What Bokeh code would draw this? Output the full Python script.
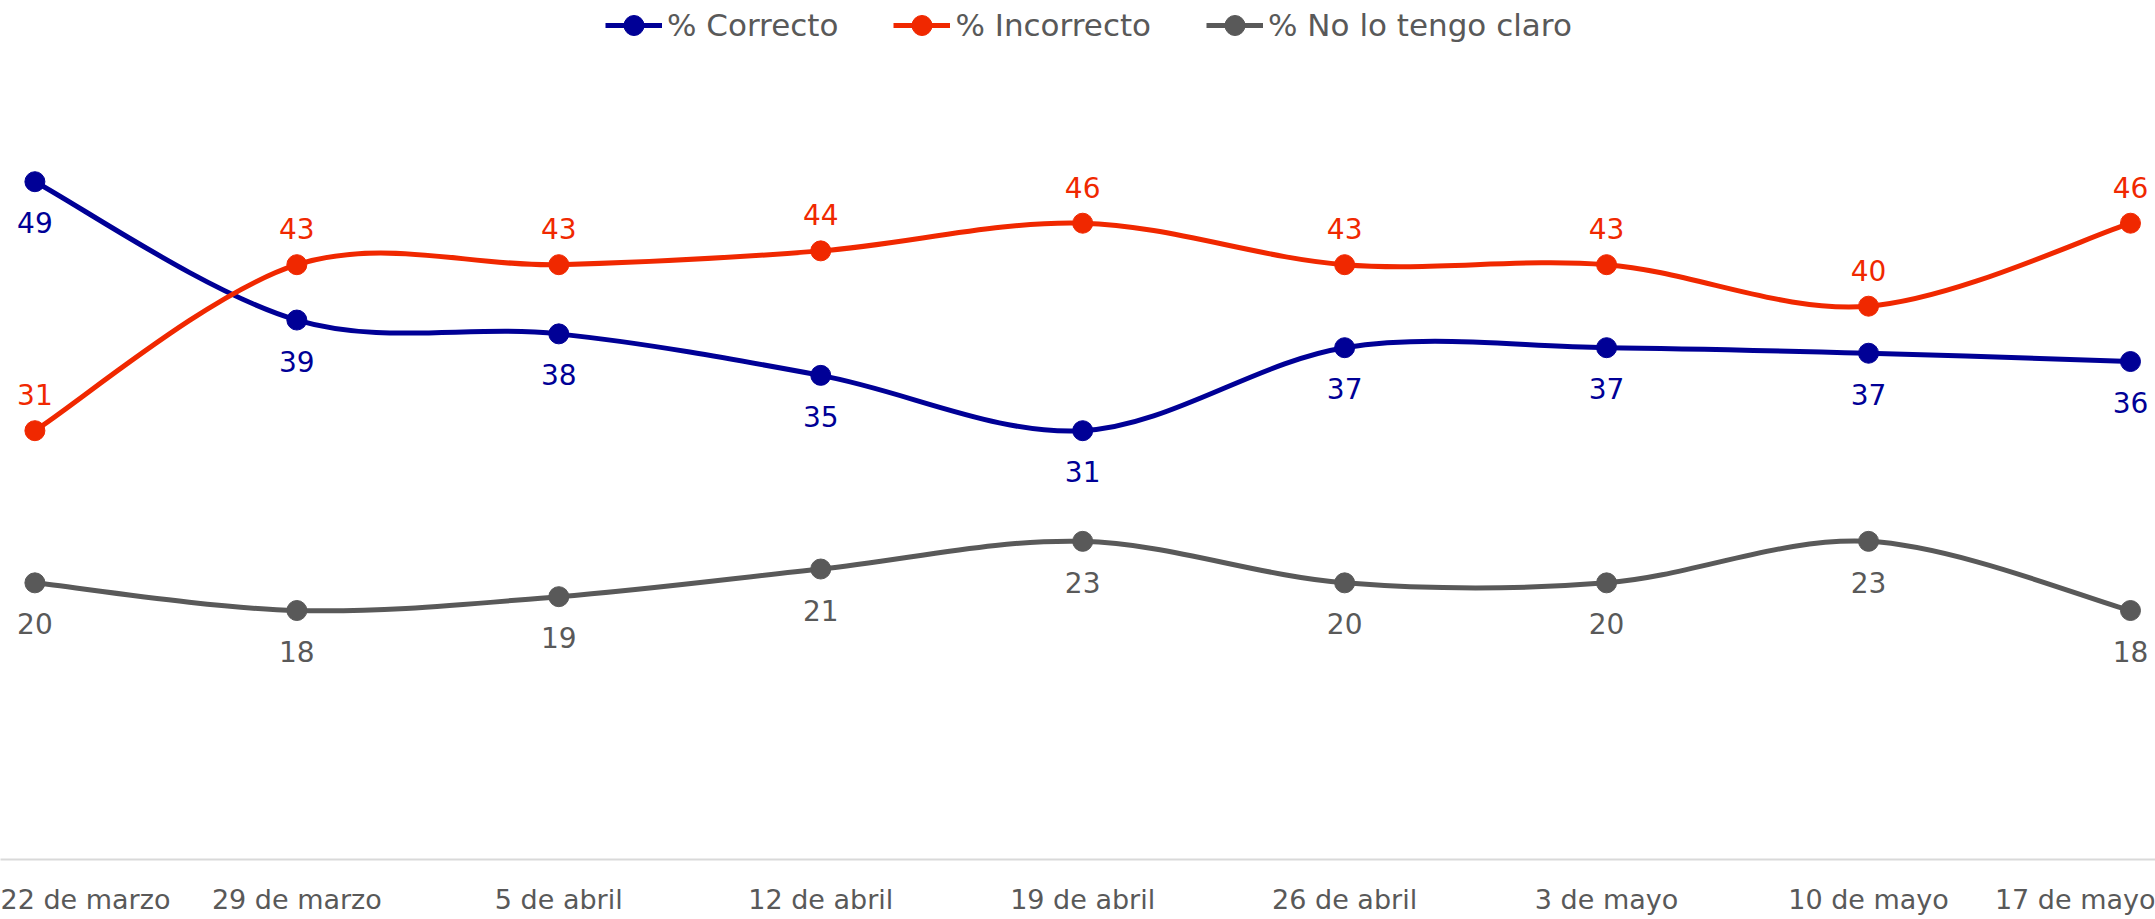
from bokeh.plotting import figure
from bokeh.models import ColumnDataSource, FixedTicker, Legend, LegendItem, Range1d
from bokeh.embed import file_html
from bokeh.resources import INLINE
from bokeh.core.properties import value

# ---- data ----
fechas = ["22 de marzo", "29 de marzo", "5 de abril", "12 de abril", "19 de abril",
          "26 de abril", "3 de mayo", "10 de mayo", "17 de mayo"]
correcto = [49, 39, 38, 35, 31, 37, 37, 36.6, 36]
incorrecto = [31, 43, 43, 44, 46, 43, 43, 40, 46]
no_claro = [20, 18, 19, 21, 23, 20, 20, 23, 18]
series_names = ["% Correcto", "% Incorrecto", "% No lo tengo claro"]

# ---- styles ----
colores = ["#000096", "#F02800", "#595959"]
offsets = [41, -36, 41]
FONT = "DejaVu Sans"

xs = list(range(len(fechas)))


def bezier_cols(xv, yv):
    n = len(xv)
    d = dict(x0=[], y0=[], x1=[], y1=[], cx0=[], cy0=[], cx1=[], cy1=[])
    for i in range(n - 1):
        xp, yp = (xv[i - 1], yv[i - 1]) if i > 0 else (xv[i], yv[i])
        xn, yn = (xv[i + 2], yv[i + 2]) if i + 2 < n else (xv[i + 1], yv[i + 1])
        d["x0"].append(xv[i]); d["y0"].append(yv[i])
        d["x1"].append(xv[i + 1]); d["y1"].append(yv[i + 1])
        d["cx0"].append(xv[i] + (xv[i + 1] - xp) / 6)
        d["cy0"].append(yv[i] + (yv[i + 1] - yp) / 6)
        d["cx1"].append(xv[i + 1] - (xn - xv[i]) / 6)
        d["cy1"].append(yv[i + 1] - (yn - yv[i]) / 6)
    return d


p = figure(width=2155, height=919, output_backend="svg", toolbar_location=None,
           x_range=Range1d(-0.1313, 8.0955), y_range=Range1d(0, 62.1),
           min_border_left=0, min_border_right=0, min_border_top=0, min_border_bottom=60,
           y_axis_location=None, outline_line_color=None)
p.xgrid.visible = False
p.ygrid.visible = False

items = []
for name, vals, col, off in zip(series_names, [correcto, incorrecto, no_claro], colores, offsets):
    bsrc = ColumnDataSource(bezier_cols(xs, vals))
    rb = p.bezier(x0="x0", y0="y0", x1="x1", y1="y1", cx0="cx0", cy0="cy0",
                  cx1="cx1", cy1="cy1", source=bsrc, line_color=col, line_width=5)
    src = ColumnDataSource(dict(x=xs, y=vals, lab=[str(int(v + 0.5)) for v in vals]))
    rs = p.scatter("x", "y", source=src, size=20, fill_color=col, line_color=col)
    p.text("x", "y", text="lab", source=src, text_color=col, text_font=value(FONT),
           text_font_size="28px", text_align="center", text_baseline="middle", y_offset=off)
    items.append(LegendItem(label=name, renderers=[rb, rs]))

legend = Legend(items=items, orientation="horizontal", location=(605, 809),
                label_text_font=FONT, label_text_font_size="31px", label_text_color="#595959",
                glyph_width=57, glyph_height=50, label_standoff=5, spacing=55,
                padding=0, margin=0, border_line_color=None, background_fill_alpha=0)
p.add_layout(legend)

ax = p.xaxis[0]
ax.ticker = FixedTicker(ticks=xs)
ax.major_label_overrides = {i: f for i, f in zip(xs, fechas)}
ax.major_tick_line_color = None
ax.minor_tick_line_color = None
ax.major_tick_out = 0
ax.major_tick_in = 0
ax.axis_line_color = "#D9D9D9"
ax.axis_line_width = 2
ax.major_label_text_font = FONT
ax.major_label_text_font_size = "27px"
ax.major_label_text_color = "#595959"
ax.major_label_standoff = 24

open("out.html", "w").write(file_html(p, INLINE))
